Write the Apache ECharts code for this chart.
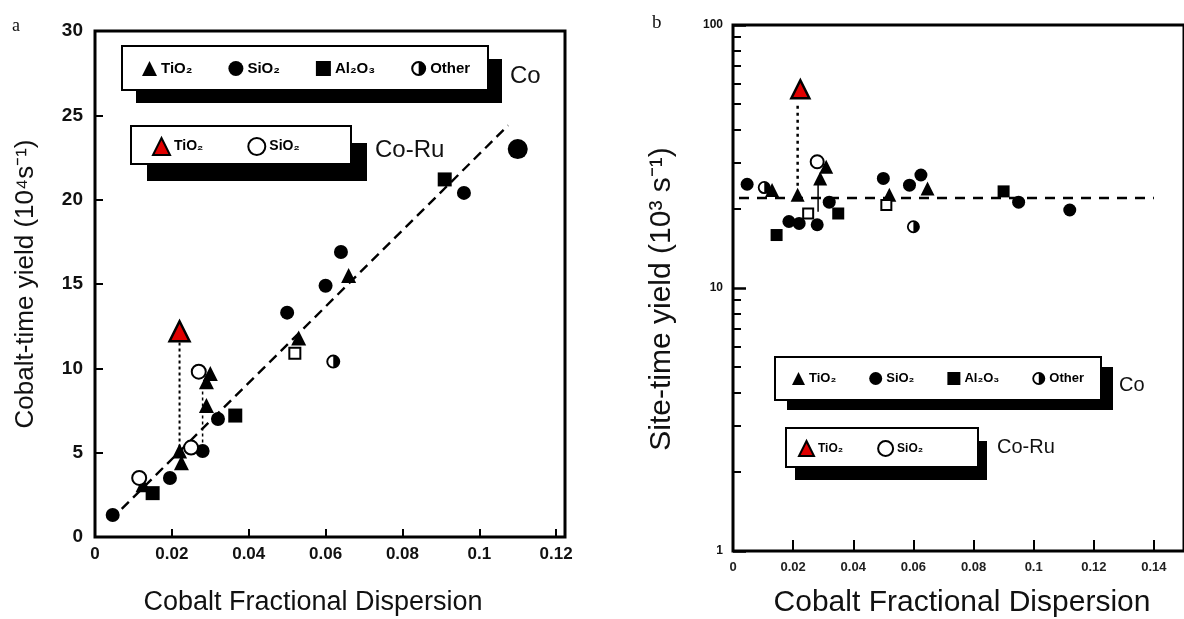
<!DOCTYPE html>
<html><head><meta charset="utf-8">
<script src="https://cdn.jsdelivr.net/npm/echarts@6/dist/echarts.min.js"></script>
<style>html,body{margin:0;padding:0;background:#fff}#c{width:1184px;height:619px}</style>
</head><body><div id="c"></div>
<script>
// ---------- Panel a : cobalt-time yield (10^4 s^-1) ----------
const aCoTiO2  = [[0.0125,3.1],[0.022,5.1],[0.0225,4.4],[0.029,9.2],[0.030,9.7],[0.029,7.8],[0.053,11.8],[0.066,15.5]];
const aCoSiO2  = [[0.0046,1.3],[0.0195,3.5],[0.028,5.1],[0.032,7.0],[0.050,13.3],[0.060,14.9],[0.064,16.9],[0.096,20.4],[0.110,23.0]];
const aCoAl2O3 = [[0.015,2.6],[0.0365,7.2],[0.091,21.2]];
const aCoOther = [[0.062,10.4]];
const aRuTiO2  = [[0.022,12.2]];
const aRuSiO2  = [[0.0115,3.5],[0.025,5.3],[0.027,9.8]];
const aRuOpenSq = [[0.052,10.9]];
const aFitLine = [[0.004,1.0],[0.1075,24.4]];
const aArrow1  = [[0.022,5.3],[0.022,11.6]];
const aArrow2  = [[0.028,5.6],[0.028,9.0]];
const aXTicks  = [0,0.02,0.04,0.06,0.08,0.1,0.12];
const aYTicks  = [0,5,10,15,20,25,30];

// ---------- Panel b : site-time yield (10^3 s^-1), log scale ----------
const bCoTiO2  = [[0.013,23.6],[0.0215,22.6],[0.029,26.1],[0.031,28.9],[0.052,22.6],[0.0647,23.9]];
const bCoSiO2  = [[0.0047,24.8],[0.0186,17.9],[0.022,17.6],[0.028,17.4],[0.032,21.2],[0.050,26.1],[0.0587,24.6],[0.0625,26.9],[0.095,21.2],[0.112,19.8]];
const bCoAl2O3 = [[0.0145,15.9],[0.035,19.2],[0.090,23.3]];
const bCoOther = [[0.0104,24.1],[0.060,17.1]];
const bRuTiO2  = [[0.0224,57]];
const bRuSiO2  = [[0.028,30.2]];
const bRuOpenSq = [[0.025,19.2],[0.051,20.7]];
const bFitLine = [[0.002,22],[0.14,22]];
const bArrow1  = [[0.0215,24.5],[0.0215,51]];
const bLink    = [[0.0283,19.5],[0.0283,25]];
const bXTicks  = [0,0.02,0.04,0.06,0.08,0.1,0.12,0.14];
const bYLabels = [1,10,100];
const bYMinor  = [2,3,4,5,6,7,8,9,20,30,40,50,60,70,80,90];

const legendNames = {coTiO2:'TiO₂', coSiO2:'SiO₂', coAl2O3:'Al₂O₃', coOther:'Other', ruTiO2:'TiO₂', ruSiO2:'SiO₂'};

const OTHER = 'path://M50,0A50,50,0,1,1,50,100A50,50,0,1,1,50,0Z M50,14A36,36,0,1,0,50,86A36,36,0,1,0,50,14Z M50,14A36,36,0,0,1,50,86Z';
const FONT = 'Liberation Sans, Arial, sans-serif';

function sc(name, data, g, sym, size, style){
  return {type:'scatter', name:name, data:data, xAxisIndex:g, yAxisIndex:g, symbol:sym,
    symbolSize:size, itemStyle:style, z:5, silent:true};
}
function ln(data, g, width, type, z){
  return {type:'line', data:data, xAxisIndex:g, yAxisIndex:g, symbol:'none', silent:true, z:z||3,
    lineStyle:{color:'#000', width:width, type:type}};
}
const black = {color:'#000', opacity:1};
const open = {color:'#fff', borderColor:'#000', borderWidth:2, opacity:1};
const red = {color:'#e00000', borderColor:'#000', borderWidth:2.5, opacity:1};

const aSize = v => v[0] > 0.105 ? 20 : 14;
const series = [
  ln(aFitLine,0,2.4,[10,6]),
  ln(aArrow1,0,2,[3,3]),
  ln(aArrow2,0,1.5,[3,3]),
  sc('coTiO2', aCoTiO2, 0, 'triangle', 15, black),
  sc('coSiO2', aCoSiO2, 0, 'circle', aSize, black),
  sc('coAl2O3', aCoAl2O3, 0, 'rect', 14, black),
  sc('coOther', aCoOther, 0, OTHER, 14, black),
  sc('ruTiO2', aRuTiO2, 0, 'triangle', 20, red),
  sc('ruSiO2', aRuSiO2, 0, 'circle', 14, open),
  sc('ruOpenSq', aRuOpenSq, 0, 'rect', 11, open),

  ln(bFitLine,1,2.5,[10,8]),
  ln(bArrow1,1,2.5,[3,4]),
  ln(bLink,1,1.5,'solid'),
  sc('coTiO2', bCoTiO2, 1, 'triangle', 14, black),
  sc('coSiO2', bCoSiO2, 1, 'circle', 13, black),
  sc('coAl2O3', bCoAl2O3, 1, 'rect', 12, black),
  sc('coOther', bCoOther, 1, OTHER, 13, black),
  sc('ruTiO2', bRuTiO2, 1, 'triangle', 18, red),
  sc('ruSiO2', bRuSiO2, 1, 'circle', 13, open),
  sc('ruOpenSq', bRuOpenSq, 1, 'rect', 10, open)
];

function legend(names, left, top, gap, fs, isz){
  return {data:names, left:left, top:top, orient:'horizontal', itemGap:gap, itemWidth:isz, itemHeight:isz,
    selectedMode:false, padding:0, z:10,
    formatter: n => legendNames[n],
    textStyle:{fontSize:fs, fontWeight:'bold', color:'#000', fontFamily:FONT, padding:[0,0,0,-1]}};
}

function box(x,y,w,h,dx,dy){
  return [
    {type:'rect', shape:{x:x+dx, y:y+dy, width:w, height:h}, style:{fill:'#000'}, z:1, silent:true},
    {type:'rect', shape:{x:x, y:y, width:w, height:h}, style:{fill:'#fff', stroke:'#000', lineWidth:2}, z:2, silent:true}
  ];
}
function txt(t,x,y,fs,opt){
  return Object.assign({type:'text', x:x, y:y, z:3, silent:true,
    style:{text:t, fontSize:fs, fontFamily:FONT, fill:'#111', textVerticalAlign:'middle'}}, opt||{});
}

const graphic = [].concat(
  box(122,46,366,44,14,13),
  box(131,126,220,38,16,17),
  box(775,357,326,43,12,10),
  box(786,428,192,39,9,13),
  [
    txt('Co',510,76,24),
    txt('Co-Ru',375,150,24),
    txt('Co',1119,385,20),
    txt('Co-Ru',997,447,20),
    {type:'text', x:12, y:26, z:3, style:{text:'a', fontSize:18, fontFamily:'Liberation Serif, serif', fill:'#111', textVerticalAlign:'middle'}},
    {type:'text', x:652, y:23, z:3, style:{text:'b', fontSize:19, fontFamily:'Liberation Serif, serif', fill:'#111', textVerticalAlign:'middle'}},
    {type:'text', x:313, y:603, z:3, style:{text:'Cobalt Fractional Dispersion', fontSize:27, fontFamily:FONT, fill:'#111', textAlign:'center', textVerticalAlign:'middle'}},
    {type:'text', x:962, y:603, z:3, style:{text:'Cobalt Fractional Dispersion', fontSize:30, fontFamily:FONT, fill:'#111', textAlign:'center', textVerticalAlign:'middle'}},
    {type:'text', x:26, y:284, rotation:Math.PI/2, z:3, style:{text:'Cobalt-time yield (10⁴s⁻¹)', fontSize:26, fontFamily:FONT, fill:'#111', textAlign:'center', textVerticalAlign:'middle'}},
    {type:'text', x:662, y:299, rotation:Math.PI/2, z:3, style:{text:'Site-time yield (10³ s⁻¹)', fontSize:30, fontFamily:FONT, fill:'#111', textAlign:'center', textVerticalAlign:'middle'}}
  ]
);

const option = {
  animation:false,
  backgroundColor:'#fff',
  grid:[
    {left:95, top:31, width:470, height:506, show:true, borderColor:'#000', borderWidth:3},
    {left:733, top:25, width:460, height:526, show:true, borderColor:'#000', borderWidth:3}
  ],
  xAxis:[
    {gridIndex:0, type:'value', min:0, max:0.1223, axisLine:{show:false}, splitLine:{show:false},
      axisTick:{inside:true, length:8, lineStyle:{color:'#000', width:2}, customValues:aXTicks},
      axisLabel:{customValues:aXTicks, fontSize:17, fontWeight:'bold', color:'#111', margin:9, fontFamily:FONT}},
    {gridIndex:1, type:'value', min:0, max:0.15, axisLine:{show:false}, splitLine:{show:false},
      axisTick:{inside:true, length:11, lineStyle:{color:'#000', width:2}, customValues:bXTicks},
      axisLabel:{customValues:bXTicks, fontSize:13, fontWeight:'bold', color:'#222', margin:10, fontFamily:FONT}}
  ],
  yAxis:[
    {gridIndex:0, type:'value', min:0, max:30, interval:5, axisLine:{show:false}, splitLine:{show:false},
      axisTick:{inside:true, length:8, lineStyle:{color:'#000', width:2}, customValues:aYTicks},
      axisLabel:{customValues:aYTicks, fontSize:19, fontWeight:'bold', color:'#111', margin:12, fontFamily:FONT}},
    {gridIndex:1, type:'log', logBase:10, min:1, max:100, position:'left', axisLine:{show:false}, splitLine:{show:false},
      axisTick:{inside:true, length:13, lineStyle:{color:'#000', width:2.5}, customValues:bYLabels},
      axisLabel:{customValues:bYLabels, fontSize:12, fontWeight:'bold', color:'#111', margin:10, fontFamily:FONT}},
    {gridIndex:1, type:'log', logBase:10, min:1, max:100, position:'left', offset:0, axisLine:{show:false}, splitLine:{show:false},
      axisTick:{inside:true, length:8, lineStyle:{color:'#000', width:2}, customValues:bYMinor},
      axisLabel:{show:false}}
  ],
  legend:[
    legend(['coTiO2','coSiO2','coAl2O3','coOther'], 142, 61, 36, 15, 15),
    legend(['ruTiO2','ruSiO2'], 152, 137, 44, 14, 17),
    legend(['coTiO2','coSiO2','coAl2O3','coOther'], 792, 372, 33, 13, 13),
    legend(['ruTiO2','ruSiO2'], 798, 440, 34, 12, 15)
  ],
  graphic:graphic,
  series:series
};
const chart = echarts.init(document.getElementById('c'), null, {renderer:'canvas'});
chart.setOption(option);
</script></body></html>
